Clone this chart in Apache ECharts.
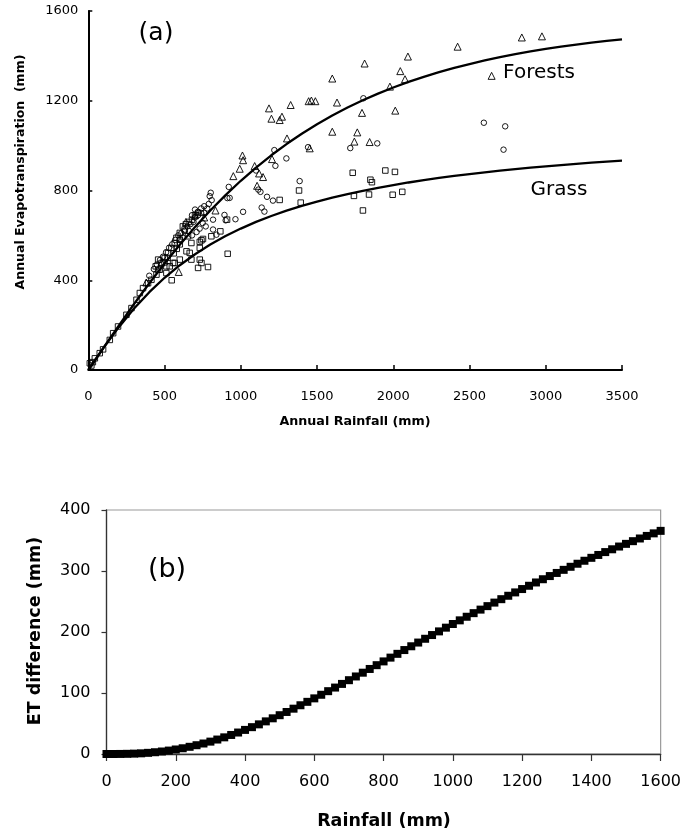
<!DOCTYPE html>
<html>
<head>
<meta charset="utf-8">
<script src="https://cdn.jsdelivr.net/npm/echarts@6/dist/echarts.min.js"></script>
<style>html,body{margin:0;padding:0;background:#fff}#c{width:684px;height:834px}</style>
</head>
<body>
<div id="c"></div>
<script>
// ---------- Panel (a) data ----------
var rainCurve = [0,100,200,300,400,500,600,700,800,900,1000,1100,1200,1300,1400,1500,1600,1700,1800,1900,2000,2100,2200,2300,2400,2500,2600,2700,2800,2900,3000,3100,3200,3300,3400,3500];
var forestET = [0,99.8,198.1,294.0,386.4,474.7,558.3,637.1,710.9,779.6,843.4,902.4,956.9,1007.0,1053.1,1095.4,1134.1,1169.6,1202.1,1231.8,1259.0,1283.9,1306.6,1327.4,1346.4,1363.7,1379.6,1394.2,1407.5,1419.7,1430.8,1441.0,1450.3,1458.9,1466.7,1473.9];
var grassET = [0,98.6,190.8,273.7,346.9,411.0,467.1,516.1,559.1,596.9,630.3,660.0,686.5,710.2,731.5,750.8,768.3,784.3,798.8,812.1,824.4,835.7,846.2,855.9,864.9,873.2,881.1,888.4,895.3,901.7,907.8,913.5,918.9,924.0,928.8,933.4];

var forestObs = [[1600,1299],[1812,1366],[2096,1397],[2422,1441],[2046,1332],[2077,1296],[1978,1263],[2645,1311],[1631,1192],[1795,1146],[2013,1156],[1600,1062],[1764,1059],[1745,1018],[1845,1016],[2843,1482],[2975,1487],
[1185,1166],[1327,1181],[1445,1198],[1463,1201],[1489,1198],[1201,1120],[1255,1114],[1270,1129],[1303,1032],[1452,988],[1011,956],[1015,935],[993,897],[951,864],[1091,909],[1205,940],[1120,876],[1146,860],[1107,821],[834,711],[593,437],[760,680],[700,690],[640,660],[480,480],[380,390]];

var mixedObs = [[1804,1211],[1895,1010],[1718,989],[2594,1102],[2734,1086],[2723,982],
[1441,993],[1220,980],[1299,943],[1227,910],[1100,889],[1129,794],[1115,804],[1172,772],[1211,755],[1386,842],[1137,724],[1155,706],[1015,705],[965,672],[927,767],
[921,816],[912,766],[803,790],[796,775],[809,757],[893,691],[901,667],[840,603],[818,670],[818,626],
[780,720],[760,700],[740,700],[720,690],[700,680],[690,660],[670,650],[650,640],[630,620],[610,610],[590,600],[570,580],[550,560],[530,545],[510,525],[490,505],[470,490],[450,470],[430,450],[400,420],[770,640],[750,655],[730,630],[710,615],[680,600],[660,620],[620,590],[600,580],[790,740],[760,730],[740,720],[720,705],[700,715],[680,690]];

var grassObs = [[1734,879],[1948,889],[2011,883],[1850,848],[1860,837],[1742,776],[1841,782],[1996,781],[2059,794],[1801,711],
[1255,758],[1382,800],[1393,746],
[910,670],[914,518],[866,618],[807,596],[752,584],[731,571],[665,522],[676,492],[720,455],[785,459],[731,492],[742,477],[547,400],[644,529],[676,566],[731,544],[742,578],[600,581],[632,626],[654,596],[556,477],[512,462],[600,492],[458,492],[442,462],[469,447],[512,432],[534,462],[567,477],
[10,30],[20,20],[30,35],[43,52],[75,75],[97,92],[141,134],[163,164],[195,194],[250,246],[283,276],[316,313],[338,343],[359,365],[392,387],[414,402],[447,425],[458,447],[480,477],[501,499],[523,521],[545,544],[567,566],[578,589],[600,611],
[620,640],[640,650],[660,660],[680,670],[700,690],[720,700],[600,560],[580,540],[560,520],[520,500],[500,480]];

// ---------- Panel (b) data ----------
var rainB = [0,20,40,60,80,100,120,140,160,180,200,220,240,260,280,300,320,340,360,380,400,420,440,460,480,500,520,540,560,580,600,620,640,660,680,700,720,740,760,780,800,820,840,860,880,900,920,940,960,980,1000,1020,1040,1060,1080,1100,1120,1140,1160,1180,1200,1220,1240,1260,1280,1300,1320,1340,1360,1380,1400,1420,1440,1460,1480,1500,1520,1540,1560,1580,1600];
var etDiff = [0,0.0,0.1,0.3,0.6,1.1,1.9,2.9,4.1,5.6,7.4,9.4,11.8,14.4,17.2,20.3,23.7,27.3,31.2,35.2,39.5,44.0,48.6,53.5,58.5,63.6,68.9,74.3,79.9,85.5,91.2,97.1,103.0,108.9,114.9,121.0,127.1,133.3,139.4,145.6,151.8,158.0,164.2,170.4,176.6,182.7,188.9,195.0,201.0,207.1,213.1,219.1,225.0,230.9,236.7,242.4,248.2,253.8,259.4,264.9,270.4,275.8,281.2,286.5,291.7,296.8,301.9,306.9,311.9,316.8,321.6,326.3,331.0,335.6,340.1,344.5,348.9,353.3,357.5,361.7,365.8];

var FONT = '"DejaVu Sans", sans-serif';
function plain(v) { return String(v); }
function zip(a, b) { return a.map(function (v, i) { return [v, b[i]]; }); }
var hollow = { color: 'rgba(255,255,255,0)', borderColor: '#000', borderWidth: 0.9, opacity: 1 };

var chart = echarts.init(document.getElementById('c'), null, { renderer: 'canvas' });
chart.setOption({
  animation: false,
  backgroundColor: '#fff',
  grid: [
    { left: 88.3, right: 62, top: 11, bottom: 464 },
    { left: 106.5, right: 22.6, top: 510, bottom: 80, show: true, borderColor: '#9a9a9a', borderWidth: 1.2 }
  ],
  xAxis: [
    { gridIndex: 0, type: 'value', min: 0, max: 3500, interval: 500,
      axisLine: { lineStyle: { color: '#000', width: 2 } },
      axisTick: { inside: true, length: 5, lineStyle: { color: '#000', width: 1.5 } },
      axisLabel: { margin: 20, color: '#000', fontSize: 13, fontFamily: FONT, formatter: plain },
      splitLine: { show: false } },
    { gridIndex: 1, type: 'value', min: 0, max: 1600, interval: 200,
      axisLine: { lineStyle: { color: '#333', width: 1.3 } },
      axisTick: { length: 7, lineStyle: { color: '#333', width: 1.2 } },
      axisLabel: { margin: 20, color: '#000', fontSize: 16, fontFamily: FONT, formatter: plain },
      splitLine: { show: false } }
  ],
  yAxis: [
    { gridIndex: 0, type: 'value', min: 0, max: 1600, interval: 400,
      axisLine: { show: true, lineStyle: { color: '#000', width: 2 } },
      axisTick: { show: true, inside: true, length: 4, lineStyle: { color: '#000', width: 1.5 } },
      axisLabel: { margin: 10, color: '#000', fontSize: 13, fontFamily: FONT, formatter: plain },
      splitLine: { show: false } },
    { gridIndex: 1, type: 'value', min: 0, max: 400, interval: 100,
      axisLine: { show: true, lineStyle: { color: '#333', width: 1.3 } },
      axisTick: { show: true, length: 5, lineStyle: { color: '#333', width: 1.2 } },
      axisLabel: { margin: 16, color: '#000', fontSize: 16, fontFamily: FONT, formatter: plain },
      splitLine: { show: false } }
  ],
  series: [
    { type: 'scatter', xAxisIndex: 0, yAxisIndex: 0, symbol: 'triangle', symbolSize: 7, itemStyle: hollow, data: forestObs, z: 3 },
    { type: 'scatter', xAxisIndex: 0, yAxisIndex: 0, symbol: 'circle', symbolSize: 5.5, itemStyle: hollow, data: mixedObs, z: 3 },
    { type: 'scatter', xAxisIndex: 0, yAxisIndex: 0, symbol: 'rect', symbolSize: 5.5, itemStyle: hollow, data: grassObs, z: 3 },
    { type: 'line', xAxisIndex: 0, yAxisIndex: 0, symbol: 'none', lineStyle: { color: '#000', width: 2.3 }, data: zip(rainCurve, forestET), z: 4 },
    { type: 'line', xAxisIndex: 0, yAxisIndex: 0, symbol: 'none', lineStyle: { color: '#000', width: 2.3 }, data: zip(rainCurve, grassET), z: 4 },
    { type: 'scatter', xAxisIndex: 1, yAxisIndex: 1, symbol: 'rect', symbolSize: 8, itemStyle: { color: '#000', opacity: 1 }, data: zip(rainB, etDiff), z: 5 }
  ],
  graphic: [
    { type: 'text', x: 156, y: 33, style: { text: '(a)', font: '25px ' + FONT, fill: '#000', align: 'center', verticalAlign: 'middle' } },
    { type: 'text', x: 539, y: 72.5, style: { text: 'Forests', font: '20px ' + FONT, fill: '#000', align: 'center', verticalAlign: 'middle' } },
    { type: 'text', x: 559, y: 190, style: { text: 'Grass', font: '20px ' + FONT, fill: '#000', align: 'center', verticalAlign: 'middle' } },
    { type: 'text', x: 21, y: 172, rotation: Math.PI / 2, style: { text: 'Annual Evapotranspiration  (mm)', font: 'bold 12.5px ' + FONT, fill: '#000', align: 'center', verticalAlign: 'middle' } },
    { type: 'text', x: 355, y: 422, style: { text: 'Annual Rainfall (mm)', font: 'bold 12.7px ' + FONT, fill: '#000', align: 'center', verticalAlign: 'middle' } },
    { type: 'text', x: 167, y: 570, style: { text: '(b)', font: '27px ' + FONT, fill: '#000', align: 'center', verticalAlign: 'middle' } },
    { type: 'text', x: 35, y: 631, rotation: Math.PI / 2, style: { text: 'ET difference (mm)', font: 'bold 17.5px ' + FONT, fill: '#000', align: 'center', verticalAlign: 'middle' } },
    { type: 'text', x: 384, y: 821, style: { text: 'Rainfall (mm)', font: 'bold 17.5px ' + FONT, fill: '#000', align: 'center', verticalAlign: 'middle' } }
  ]
});
</script>
</body>
</html>
